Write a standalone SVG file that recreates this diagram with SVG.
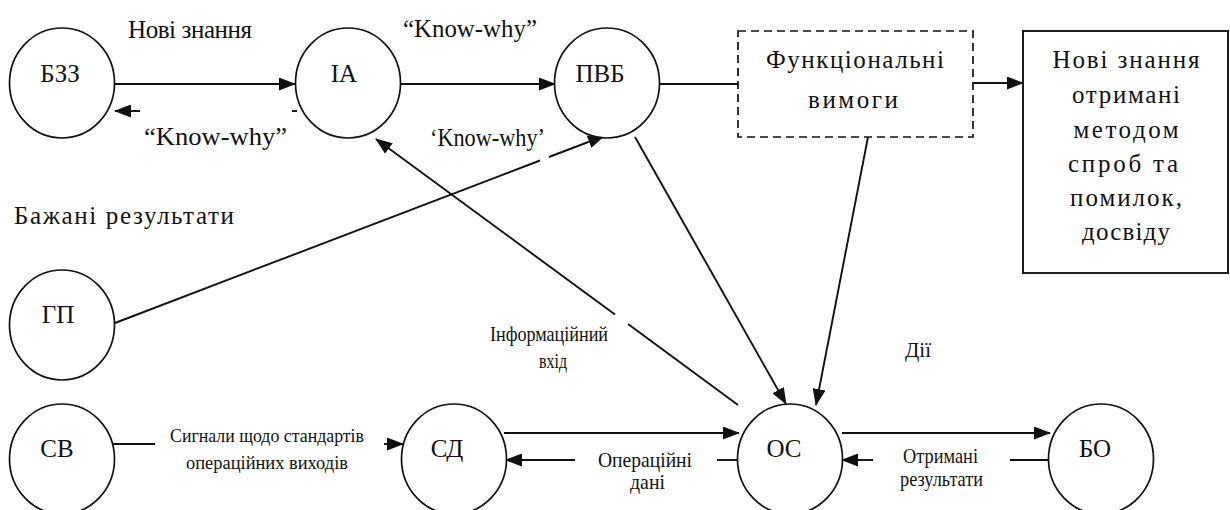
<svg xmlns="http://www.w3.org/2000/svg" width="1230" height="510" viewBox="0 0 1230 510">
  <defs>
    <style>
      .node { fill: #fff; stroke: #111; stroke-width: 1.7; }
      .box { fill: #fff; stroke: #111; stroke-width: 1.9; }
      .dash { fill: #fff; stroke: #111; stroke-width: 1.7; stroke-dasharray: 8 5; }
      .wire { fill: none; stroke: #111; stroke-width: 1.9; }
      .arr { marker-end: url(#ah); }
      text { fill: #111; font-family: "Liberation Serif", "DejaVu Serif", serif; }
      .lbl { font-size: 25px; }
      .nl { font-size: 25px; text-anchor: middle; }
      .sm { font-size: 21px; }
      .xs { font-size: 19px; }
      .mid { text-anchor: middle; }
    </style>
    <marker id="ah" markerWidth="17" markerHeight="13" refX="16" refY="6.5" orient="auto" markerUnits="userSpaceOnUse">
      <path d="M0,0 L17,6.5 L0,13 z" fill="#111"/>
    </marker>
  </defs>

  <rect width="1230" height="510" fill="#fff"/>

  <!-- connectors -->
  <g id="connectors">
    <line class="wire arr" x1="115" y1="84" x2="295" y2="84"/>
    <line class="wire arr" x1="140" y1="111" x2="115" y2="111"/>
    <line class="wire" x1="292" y1="111" x2="297" y2="111"/>
    <line class="wire arr" x1="400" y1="84" x2="555" y2="84"/>
    <line class="wire" x1="660" y1="84" x2="738" y2="84"/>
    <line class="wire arr" x1="973" y1="83" x2="1023" y2="83"/>

    <!-- ГП to ПВБ, broken under the label -->
    <line class="wire" x1="115" y1="323" x2="540" y2="160.5"/>
    <line class="wire arr" x1="549" y1="157" x2="604" y2="136"/>

    <!-- ОС to ІА, broken at the label -->
    <line class="wire" x1="738" y1="405" x2="628" y2="324"/>
    <line class="wire arr" x1="615" y1="314.5" x2="376" y2="139"/>

    <line class="wire arr" x1="635" y1="137" x2="786" y2="404"/>
    <line class="wire arr" x1="868" y1="137" x2="816" y2="405"/>

    <!-- bottom row -->
    <line class="wire" x1="113" y1="444" x2="155" y2="444"/>
    <line class="wire arr" x1="384" y1="444" x2="403" y2="444"/>
    <line class="wire arr" x1="504" y1="433" x2="739" y2="433"/>
    <line class="wire arr" x1="575" y1="460" x2="506" y2="460"/>
    <line class="wire" x1="717" y1="460" x2="738" y2="460"/>
    <line class="wire arr" x1="842" y1="433" x2="1050" y2="433"/>
    <line class="wire arr" x1="873" y1="460" x2="842" y2="460"/>
    <line class="wire" x1="1010" y1="460" x2="1049" y2="460"/>
  </g>

  <!-- nodes -->
  <g id="node-bzz">
    <ellipse class="node" cx="62" cy="83" rx="52.5" ry="55"/>
    <text class="nl" x="60" y="82">БЗЗ</text>
  </g>
  <g id="node-ia">
    <ellipse class="node" cx="348" cy="83" rx="52.5" ry="55"/>
    <text class="nl" x="344" y="82">ІА</text>
  </g>
  <g id="node-pvb">
    <ellipse class="node" cx="607" cy="83" rx="52.5" ry="55"/>
    <text class="nl" x="600" y="82">ПВБ</text>
  </g>
  <g id="node-func">
    <rect class="dash" x="738" y="31" width="235" height="106"/>
    <text class="lbl mid" x="855" y="68" textLength="178" lengthAdjust="spacing">Функціональні</text>
    <text class="lbl mid" x="853" y="108" textLength="90" lengthAdjust="spacing">вимоги</text>
  </g>
  <g id="node-new">
    <rect class="box" x="1023" y="31" width="205" height="242"/>
    <text class="lbl mid" x="1126" y="68" textLength="147" lengthAdjust="spacing">Нові знання</text>
    <text class="lbl mid" x="1126" y="103" textLength="108" lengthAdjust="spacing">отримані</text>
    <text class="lbl mid" x="1126" y="138" textLength="105" lengthAdjust="spacing">методом</text>
    <text class="lbl mid" x="1123" y="172" textLength="110" lengthAdjust="spacing">спроб та</text>
    <text class="lbl mid" x="1126" y="206" textLength="112" lengthAdjust="spacing">помилок,</text>
    <text class="lbl mid" x="1126" y="240" textLength="88" lengthAdjust="spacing">досвіду</text>
  </g>
  <g id="node-gp">
    <ellipse class="node" cx="62" cy="325" rx="52.5" ry="55"/>
    <text class="nl" x="58" y="323">ГП</text>
  </g>
  <g id="node-sv">
    <ellipse class="node" cx="62" cy="459" rx="52.5" ry="55"/>
    <text class="nl" x="57" y="457">СВ</text>
  </g>
  <g id="node-sd">
    <ellipse class="node" cx="454" cy="459" rx="52.5" ry="55"/>
    <text class="nl" x="447" y="457">СД</text>
  </g>
  <g id="node-os">
    <ellipse class="node" cx="790" cy="459" rx="52.5" ry="55"/>
    <text class="nl" x="784" y="457">ОС</text>
  </g>
  <g id="node-bo">
    <ellipse class="node" cx="1101" cy="459" rx="52.5" ry="55"/>
    <text class="nl" x="1095" y="457">БО</text>
  </g>

  <!-- connector labels -->
  <g id="labels">
    <text class="lbl" x="128" y="38" textLength="124" lengthAdjust="spacing">Нові знання</text>
    <text class="lbl" x="403" y="37" textLength="134" lengthAdjust="spacingAndGlyphs">“Know-why”</text>
    <text class="lbl" x="144" y="145" textLength="143" lengthAdjust="spacingAndGlyphs">“Know-why”</text>
    <text class="lbl" x="430" y="146" textLength="115" lengthAdjust="spacingAndGlyphs">‘Know-why’</text>
    <text class="lbl" x="14" y="224" textLength="220" lengthAdjust="spacing">Бажані результати</text>
    <text class="sm mid" x="549" y="341" textLength="118" lengthAdjust="spacingAndGlyphs">Інформаційний</text>
    <text class="sm mid" x="553" y="368" textLength="28" lengthAdjust="spacingAndGlyphs">вхід</text>
    <text class="sm mid" x="918" y="357" textLength="26" lengthAdjust="spacingAndGlyphs">Дії</text>
    <text class="xs mid" x="267" y="442" textLength="194" lengthAdjust="spacingAndGlyphs">Сигнали щодо стандартів</text>
    <text class="xs mid" x="267" y="469" textLength="162" lengthAdjust="spacingAndGlyphs">операційних виходів</text>
    <text class="sm" x="598" y="467" textLength="94" lengthAdjust="spacingAndGlyphs">Операційні</text>
    <text class="sm" x="630" y="489" textLength="35" lengthAdjust="spacingAndGlyphs">дані</text>
    <text class="sm" x="903" y="463" textLength="75" lengthAdjust="spacingAndGlyphs">Отримані</text>
    <text class="sm" x="900" y="486" textLength="83" lengthAdjust="spacingAndGlyphs">результати</text>
  </g>
</svg>
